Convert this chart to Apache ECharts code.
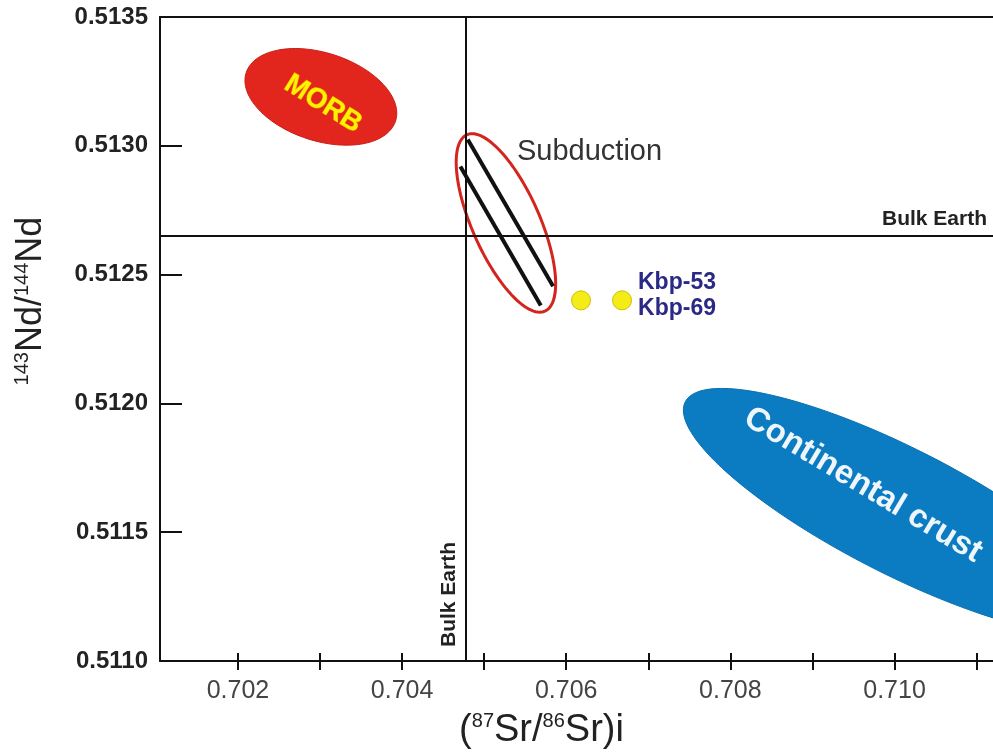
<!DOCTYPE html>
<html><head><meta charset="utf-8">
<script src="https://cdn.jsdelivr.net/npm/echarts@6/dist/echarts.min.js"></script>
<style>html,body{margin:0;padding:0;background:#fff}#c{width:993px;height:755px}</style>
</head><body><div id="c"></div><script>
// ---- data ----
const srTickValues = [0.702, 0.703, 0.704, 0.705, 0.706, 0.707, 0.708, 0.709, 0.710, 0.711];
const srLabelValues = [0.702, 0.704, 0.706, 0.708, 0.710];
const ndTickLabels = [0.5110, 0.5115, 0.5120, 0.5125, 0.5130, 0.5135];
const srRange = [0.70105, 0.7112];
const bulkEarthSr = 0.70477;
const bulkEarthNd = 0.51265;
const sampleNames = ['Kbp-53', 'Kbp-69'];
const sampleSr = [0.70618, 0.70668];
const sampleNd = [0.51240, 0.51240];
// fields: major-axis end points [Sr1, Nd1, Sr2, Nd2] and minor/major ratio
const morbAxis = [0.70210, 0.513284, 0.70392, 0.513096];
const morbWidth = 0.56;
const subductionAxis = [0.70479, 0.513043, 0.70574, 0.512358];
const subductionWidth = 0.35;
const subductionHatch = [[0.70480, 0.513024, 0.70584, 0.512455], [0.70471, 0.51292, 0.70569, 0.51238]];
const crustAxis = [0.70745, 0.512006, 0.71269, 0.511155];
const crustWidth = 0.26;

const FONT = "Arial, 'Liberation Sans', sans-serif";
const chart = echarts.init(document.getElementById('c'));

function ellipseSeries(name, axis, ratio, style, z) {
  return {
    type: 'custom', name: name, coordinateSystem: 'cartesian2d', clip: true, silent: true, z: z,
    data: [[axis[0], axis[1], axis[2], axis[3], ratio]],
    renderItem: function (params, api) {
      const p1 = api.coord([api.value(0), api.value(1)]);
      const p2 = api.coord([api.value(2), api.value(3)]);
      const cx = (p1[0] + p2[0]) / 2, cy = (p1[1] + p2[1]) / 2;
      const a = Math.hypot(p2[0] - p1[0], p2[1] - p1[1]) / 2;
      const b = a * api.value(4);
      const phi = Math.atan2(p2[1] - p1[1], p2[0] - p1[0]);
      const pts = [];
      for (let i = 0; i < 120; i++) {
        const t = i / 120 * Math.PI * 2;
        pts.push([cx + a * Math.cos(t) * Math.cos(phi) - b * Math.sin(t) * Math.sin(phi),
                  cy + a * Math.cos(t) * Math.sin(phi) + b * Math.sin(t) * Math.cos(phi)]);
      }
      return { type: 'polygon', shape: { points: pts }, style: style };
    }
  };
}

const yMin = ndTickLabels[0], yMax = ndTickLabels[ndTickLabels.length - 1];

const option = {
  animation: false,
  backgroundColor: '#fff',
  grid: { left: 160, right: 0, top: 17, bottom: 92 },
  xAxis: [
    {
      type: 'value', position: 'bottom', min: srRange[0], max: srRange[1],
      name: '{p|(}{s|87}{p|Sr/}{s|86}{p|Sr)i}',
      nameLocation: 'middle', nameGap: 50,
      nameTextStyle: {
        padding: [0, 70, 0, 0],
        rich: {
          p: { fontSize: 38, fontFamily: FONT, color: '#222', lineHeight: 40 },
          s: { fontSize: 20, fontFamily: FONT, color: '#222', verticalAlign: 'top', lineHeight: 40 }
        }
      },
      axisLine: { show: true, onZero: false, lineStyle: { color: '#111', width: 2 } },
      axisTick: { show: true, inside: false, length: 9, customValues: srTickValues, lineStyle: { color: '#111', width: 2 } },
      axisLabel: { customValues: srLabelValues, formatter: v => v.toFixed(3), fontSize: 25, fontFamily: FONT, color: '#444', margin: 18 },
      splitLine: { show: false }
    },
    {
      type: 'value', position: 'bottom', min: srRange[0], max: srRange[1],
      axisLine: { show: false, onZero: false },
      axisTick: { show: true, inside: true, length: 8, customValues: srTickValues, lineStyle: { color: '#111', width: 2 } },
      axisLabel: { show: false }, splitLine: { show: false }
    },
    {
      type: 'value', position: 'top', min: srRange[0], max: srRange[1],
      axisLine: { show: true, onZero: false, lineStyle: { color: '#111', width: 2 } },
      axisTick: { show: false }, axisLabel: { show: false }, splitLine: { show: false }
    }
  ],
  yAxis: {
    type: 'value', min: yMin, max: yMax, interval: 0.0005,
    name: '{s|143}{p|Nd/}{s|144}{p|Nd}',
    nameLocation: 'middle', nameGap: 110,
    nameTextStyle: {
      padding: [0, 0, 0, 76],
      rich: {
        p: { fontSize: 36, fontFamily: FONT, color: '#222', lineHeight: 38 },
        s: { fontSize: 20, fontFamily: FONT, color: '#222', verticalAlign: 'top', lineHeight: 38 }
      }
    },
    axisLine: { show: true, onZero: false, lineStyle: { color: '#111', width: 2 } },
    axisTick: { show: true, inside: true, length: 22, lineStyle: { color: '#111', width: 2 } },
    axisLabel: { formatter: v => v.toFixed(4), fontSize: 24, fontWeight: 'bold', fontFamily: FONT, color: '#222', margin: 12 },
    splitLine: { show: false }
  },
  graphic: [
    { type: 'text', x: 323, y: 104, rotation: -32 * Math.PI / 180, z: 100,
      style: { text: 'MORB', font: 'bold 28px ' + FONT, fill: '#fff200', stroke: '#f08a00', lineWidth: 1, align: 'center', verticalAlign: 'middle' } },
    { type: 'text', x: 517, y: 152, z: 100,
      style: { text: 'Subduction', font: '29px ' + FONT, fill: '#333', align: 'left', verticalAlign: 'middle' } },
    { type: 'text', x: 863, y: 485, rotation: -31 * Math.PI / 180, z: 100,
      style: { text: 'Continental crust', font: 'bold 33px ' + FONT, fill: '#eef6fc', align: 'center', verticalAlign: 'middle' } }
  ],
  series: [
    ellipseSeries('MORB', morbAxis, morbWidth, { fill: '#e2261d', stroke: '#c81e16', lineWidth: 1 }, 2),
    ellipseSeries('Continental crust', crustAxis, crustWidth, { fill: '#0b7cc1', stroke: '#0a70b0', lineWidth: 1 }, 2),
    ellipseSeries('Subduction', subductionAxis, subductionWidth, { fill: 'none', stroke: '#d3251d', lineWidth: 3 }, 3),
    {
      type: 'lines', coordinateSystem: 'cartesian2d', silent: true, z: 4,
      data: subductionHatch.map(h => ({ coords: [[h[0], h[1]], [h[2], h[3]]] })),
      lineStyle: { color: '#111', width: 4, opacity: 1 }
    },
    {
      type: 'lines', coordinateSystem: 'cartesian2d', silent: true, z: 3,
      lineStyle: { color: '#111', width: 2, opacity: 1 },
      label: { show: true, formatter: 'Bulk Earth', fontSize: 21, fontWeight: 'bold', fontFamily: FONT, color: '#222', distance: 6 },
      data: [
        { coords: [[bulkEarthSr, yMin], [bulkEarthSr, yMax]], label: { position: 'insideStartTop', padding: [0, 0, 0, 8] } },
        { coords: [[srRange[0], bulkEarthNd], [srRange[1], bulkEarthNd]], label: { position: 'insideEndTop' } }
      ]
    },
    {
      type: 'scatter', z: 5, symbolSize: 19,
      itemStyle: { color: '#f4ec17', borderColor: '#cfc000', borderWidth: 1, opacity: 1 },
      data: sampleSr.map((x, i) => ({
        value: [x, sampleNd[i]], name: sampleNames[i],
        label: i === 0 ? { offset: [42, -18] } : { offset: [1, 8] }
      })),
      label: { show: true, position: 'right', distance: 5, formatter: p => p.name, fontSize: 23, fontWeight: 'bold', fontFamily: FONT, color: '#2a2a86' }
    }
  ]
};
chart.setOption(option);
</script></body></html>
